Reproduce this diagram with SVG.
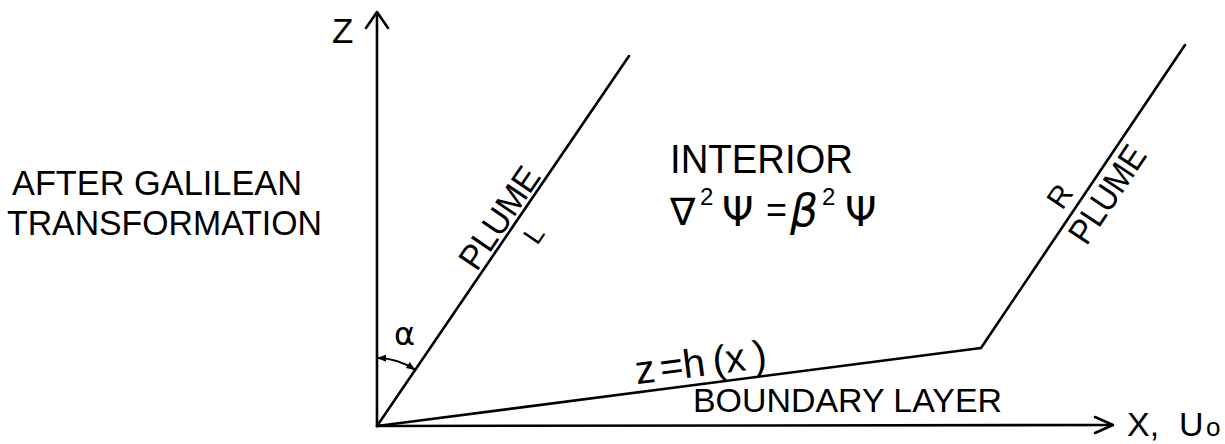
<svg xmlns="http://www.w3.org/2000/svg" width="1225" height="444" viewBox="0 0 1225 444">
<style>
  .ln { stroke: #000; stroke-width: 2.6; fill: none; stroke-linecap: round; stroke-linejoin: round; }
  .thin { stroke: #000; stroke-width: 2.2; fill: none; stroke-linecap: round; }
  text { font-family: "Liberation Sans", Arial, sans-serif; fill: #000; }
  .sym { font-family: "DejaVu Sans", "Liberation Sans", sans-serif; }
</style>
<defs>
  <marker id="ah" viewBox="0 0 10 10" refX="9" refY="5" markerWidth="9" markerHeight="9" markerUnits="userSpaceOnUse" orient="auto-start-reverse">
    <path d="M0,1 L10,5 L0,9 Z" fill="#000"/>
  </marker>
</defs>
<rect width="1225" height="444" fill="#fff"/>

<g id="connectors">
  <!-- Z axis -->
  <line class="ln" x1="377" y1="426" x2="377" y2="13"/>
  <polyline class="ln" points="366,28 377,12 388,28"/>
  <!-- X axis -->
  <line class="ln" x1="377" y1="426" x2="1112" y2="425"/>
  <polyline class="ln" points="1095,417 1113,425 1095,433"/>
  <!-- left plume -->
  <line class="ln" x1="377" y1="426" x2="629" y2="56"/>
  <!-- boundary -->
  <line class="ln" x1="377" y1="426" x2="981" y2="348"/>
  <!-- right plume -->
  <line class="ln" x1="981" y1="348" x2="1185" y2="45"/>
  <!-- alpha arc -->
  <path class="thin" d="M378,358 A68,68 0 0 1 414.5,369.5" marker-start="url(#ah)" marker-end="url(#ah)"/>
</g>

<g id="axis-labels">
  <text x="332" y="43" font-size="35">Z</text>
  <text x="1127" y="436" font-size="34">X,<tspan x="1179">U</tspan><tspan x="1206" font-size="26">o</tspan></text>
</g>

<g id="title">
  <text x="12" y="195" font-size="35" textLength="290" lengthAdjust="spacingAndGlyphs">AFTER GALILEAN</text>
  <text x="7" y="235" font-size="35" textLength="315" lengthAdjust="spacingAndGlyphs">TRANSFORMATION</text>
</g>

<g id="interior">
  <text x="670" y="173" font-size="41" textLength="183" lengthAdjust="spacingAndGlyphs">INTERIOR</text>
  <text class="sym" x="670" y="225" font-size="38">∇</text>
  <text x="700" y="205" font-size="24">2</text>
  <text class="sym" x="722" y="226" font-size="40">Ψ</text>
  <text x="766" y="222" font-size="36">=</text>
  <text class="sym" x="790" y="226" font-size="44" font-style="italic">β</text>
  <text x="822" y="205" font-size="24">2</text>
  <text class="sym" x="845" y="226" font-size="40">Ψ</text>
</g>

<g id="plume-left" transform="translate(377,426) rotate(-55.74)">
  <text x="183" y="-4" font-size="35" textLength="116" lengthAdjust="spacingAndGlyphs">PLUME</text>
  <text x="239" y="31" font-size="27">L</text>
</g>

<g id="plume-right" transform="translate(981,348) rotate(-56.05)">
  <text x="159" y="-9" font-size="30">R</text>
  <text x="143" y="31" font-size="35" textLength="110" lengthAdjust="spacingAndGlyphs">PLUME</text>
</g>

<g id="angle">
  <text class="sym" x="394" y="345" font-size="32">α</text>
</g>

<g id="boundary-layer">
  <g transform="translate(377,426) rotate(-7.36)">
    <text x="263" y="-8" font-size="40">z<tspan x="288">=</tspan><tspan x="311">h</tspan><tspan x="341">(</tspan><tspan x="354">x</tspan><tspan x="382">)</tspan></text>
  </g>
  <text x="693" y="412" font-size="33" textLength="309" lengthAdjust="spacingAndGlyphs">BOUNDARY LAYER</text>
</g>
</svg>
